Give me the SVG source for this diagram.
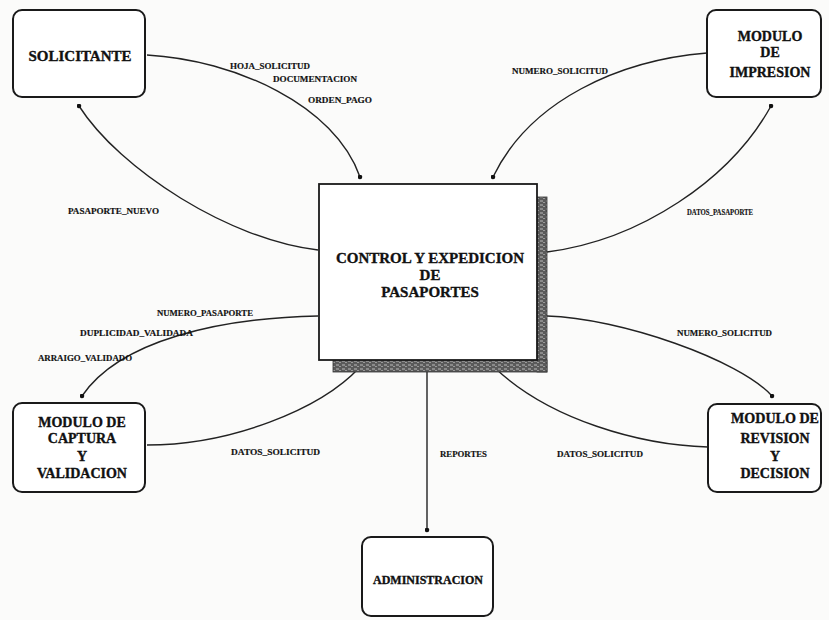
<svg xmlns="http://www.w3.org/2000/svg" width="829" height="620" viewBox="0 0 829 620">
  <style>
    .box { fill: #ffffff; stroke: #1a1a1a; stroke-width: 2; }
    .proc { fill: #ffffff; stroke: #1a1a1a; stroke-width: 1.8; }
    .node { font-family: "Liberation Serif", "Times New Roman", serif; font-weight: bold; fill: #111; stroke: #111; stroke-width: 0.35; text-anchor: middle; }
    .lbl { font-family: "Liberation Serif", "Times New Roman", serif; font-weight: bold; font-size: 7.5px; fill: #111; stroke: #111; stroke-width: 0.15; }
    .flow { fill: none; stroke: #222; stroke-width: 1.4; marker-end: url(#dot); }
  </style>
  <defs>
    <marker id="dot" viewBox="0 0 10 10" refX="5" refY="5" markerWidth="5" markerHeight="5" markerUnits="userSpaceOnUse">
      <circle cx="5" cy="5" r="4.5" fill="#111"/>
    </marker>
    <pattern id="shade" width="6" height="4" patternUnits="userSpaceOnUse">
      <rect width="6" height="4" fill="#5a5a5a"/>
      <rect x="0" y="0" width="3" height="2" fill="#8a8a8a"/>
      <rect x="3" y="2" width="2" height="1" fill="#9a9a9a"/>
    </pattern>
  </defs>

  <rect width="829" height="620" fill="#fbfbfa"/>

  <!-- data flows -->
  <g id="connectors">
    <path class="flow" d="M147,55 C235,60 335,105 360,177"/>
    <path class="flow" d="M318,250 C230,240 120,170 79,106"/>
    <path class="flow" d="M707,53 C620,60 530,100 493,177"/>
    <path class="flow" d="M547,252 C640,240 730,180 771,106"/>
    <path class="flow" d="M318,316 C220,318 120,340 82,396"/>
    <path class="flow" d="M147,445 C230,445 320,410 360,367"/>
    <path class="flow" d="M547,316 C620,318 740,360 772,396"/>
    <path class="flow" d="M708,447 C640,445 550,420 495,368"/>
    <path class="flow" d="M427,362 L427,530"/>

    <text class="lbl" x="230" y="69" textLength="80" lengthAdjust="spacingAndGlyphs">HOJA_SOLICITUD</text>
    <text class="lbl" x="273" y="82" textLength="84" lengthAdjust="spacingAndGlyphs">DOCUMENTACION</text>
    <text class="lbl" x="308" y="103" textLength="64" lengthAdjust="spacingAndGlyphs">ORDEN_PAGO</text>
    <text class="lbl" x="68" y="214" textLength="91" lengthAdjust="spacingAndGlyphs">PASAPORTE_NUEVO</text>
    <text class="lbl" x="512" y="74" textLength="96" lengthAdjust="spacingAndGlyphs">NUMERO_SOLICITUD</text>
    <text class="lbl" x="687" y="215" textLength="66" lengthAdjust="spacingAndGlyphs">DATOS_PASAPORTE</text>
    <text class="lbl" x="157" y="316" textLength="96" lengthAdjust="spacingAndGlyphs">NUMERO_PASAPORTE</text>
    <text class="lbl" x="80" y="336" textLength="113" lengthAdjust="spacingAndGlyphs">DUPLICIDAD_VALIDADA</text>
    <text class="lbl" x="38" y="361" textLength="94" lengthAdjust="spacingAndGlyphs">ARRAIGO_VALIDADO</text>
    <text class="lbl" x="231" y="455" textLength="89" lengthAdjust="spacingAndGlyphs">DATOS_SOLICITUD</text>
    <text class="lbl" x="677" y="336" textLength="95" lengthAdjust="spacingAndGlyphs">NUMERO_SOLICITUD</text>
    <text class="lbl" x="440" y="457" textLength="47" lengthAdjust="spacingAndGlyphs">REPORTES</text>
    <text class="lbl" x="557" y="457" textLength="86" lengthAdjust="spacingAndGlyphs">DATOS_SOLICITUD</text>
  </g>

  <!-- central process -->
  <g id="control-expedicion">
    <rect x="537" y="197" width="10" height="175" fill="url(#shade)" stroke="#333" stroke-width="0.8"/>
    <rect x="333" y="360" width="214" height="12" fill="url(#shade)" stroke="#333" stroke-width="0.8"/>
    <rect class="proc" x="319" y="184" width="218" height="176"/>
    <text class="node" font-size="15" x="430" y="263">CONTROL Y EXPEDICION</text>
    <text class="node" font-size="15" x="430" y="280">DE</text>
    <text class="node" font-size="15" x="430" y="297">PASAPORTES</text>
  </g>

  <g id="solicitante">
    <rect class="box" x="13" y="10" width="132" height="87" rx="9"/>
    <text class="node" font-size="15" x="80" y="61">SOLICITANTE</text>
  </g>

  <g id="modulo-impresion">
    <rect class="box" x="707" y="10" width="114" height="87" rx="9"/>
    <text class="node" font-size="14" x="770" y="41">MODULO</text>
    <text class="node" font-size="14" x="770" y="57">DE</text>
    <text class="node" font-size="14" x="770" y="77">IMPRESION</text>
  </g>

  <g id="modulo-captura">
    <rect class="box" x="13" y="403" width="132" height="89" rx="9"/>
    <text class="node" font-size="14" x="82" y="427">MODULO DE</text>
    <text class="node" font-size="14" x="82" y="443">CAPTURA</text>
    <text class="node" font-size="14" x="82" y="461">Y</text>
    <text class="node" font-size="14" x="82" y="478">VALIDACION</text>
  </g>

  <g id="modulo-revision">
    <rect class="box" x="708" y="404" width="113" height="88" rx="9"/>
    <text class="node" font-size="14" x="775" y="423" textLength="88" lengthAdjust="spacingAndGlyphs">MODULO DE</text>
    <text class="node" font-size="14" x="775" y="443">REVISION</text>
    <text class="node" font-size="14" x="775" y="461">Y</text>
    <text class="node" font-size="14" x="775" y="478">DECISION</text>
  </g>

  <g id="administracion">
    <rect class="box" x="362" y="537" width="131" height="79" rx="9"/>
    <text class="node" font-size="12" x="428" y="584">ADMINISTRACION</text>
  </g>
</svg>
